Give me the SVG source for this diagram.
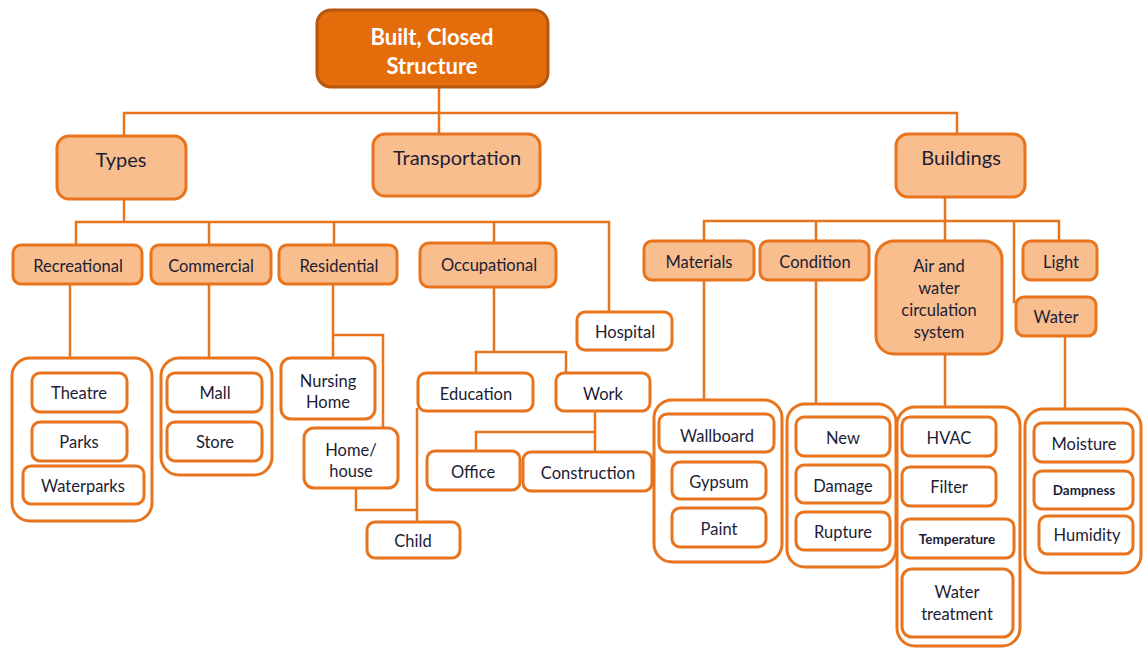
<svg xmlns="http://www.w3.org/2000/svg" width="1143" height="656" viewBox="0 0 1143 656">
<style>
text{font-family:Lato,"Liberation Sans",sans-serif;fill:#1d1d35;text-anchor:middle}
.root rect{fill:#E46C0A;stroke:#B65710;stroke-width:3}
.root text{fill:#fff;font-weight:bold;font-size:22px}
.l1 rect{fill:#F9BE8E;stroke:#E8741E;stroke-width:3}
.l1 text{font-size:20px}
.l2 rect{fill:#F9BE8E;stroke:#E8741E;stroke-width:3}
.l2 text{font-size:16.5px}
.leaf rect{fill:#fff;stroke:#E8741E;stroke-width:3}
.leaf text{font-size:16.5px}
.leaf rect.grp{fill:#fff;stroke:#E8741E;stroke-width:3}
.leaf text.small{font-size:13.5px;font-weight:bold}
#connectors path{fill:none;stroke:#E8741E;stroke-width:2.5}
</style>
<g id="connectors">
<path d="M439 87V134"/>
<path d="M124 136V113H957V133"/>
<path d="M124 199V222"/>
<path d="M76 245V222H609V312"/>
<path d="M209 222V244M334 222V244M494 222V243"/>
<path d="M945 197V221"/>
<path d="M704 241V221H1059V241"/>
<path d="M816 221V241M945 221V241M1014 221V302H1016"/>
<path d="M70 284V358"/>
<path d="M209 284V358"/>
<path d="M333 284V358M333 335H383V428"/>
<path d="M356 488V510H416"/>
<path d="M417 408V522"/>
<path d="M494 287V352M476 373V352H566V373"/>
<path d="M595 411V452M595 432H476V451"/>
<path d="M704 280V400"/>
<path d="M816 280V404"/>
<path d="M945 354V408"/>
<path d="M1065 336V409"/>
</g>
<g id="root" class="root">
<rect x="317" y="10" width="231" height="77" rx="14"/>
<text x="432" y="45">Built, Closed</text>
<text x="432" y="74">Structure</text>
</g>
<g id="types" class="l1"><rect x="57" y="136" width="129" height="63" rx="12"/><text x="121" y="167">Types</text></g>
<g id="transportation" class="l1"><rect x="373" y="134" width="167" height="62" rx="12"/><text x="457" y="165">Transportation</text></g>
<g id="buildings" class="l1"><rect x="896" y="134" width="129" height="63" rx="12"/><text x="961" y="165">Buildings</text></g>

<g id="recreational" class="l2"><rect x="13" y="245" width="129" height="39" rx="8"/><text x="78" y="272">Recreational</text></g>
<g id="commercial" class="l2"><rect x="151" y="245" width="120" height="39" rx="8"/><text x="211" y="272">Commercial</text></g>
<g id="residential" class="l2"><rect x="279" y="245" width="118" height="39" rx="8"/><text x="339" y="272">Residential</text></g>
<g id="occupational" class="l2"><rect x="420" y="243" width="136" height="44" rx="9"/><text x="489" y="271">Occupational</text></g>
<g id="materials" class="l2"><rect x="644" y="241" width="110" height="39" rx="8"/><text x="699" y="268">Materials</text></g>
<g id="condition" class="l2"><rect x="760" y="241" width="109" height="39" rx="8"/><text x="815" y="268">Condition</text></g>
<g id="air" class="l2"><rect x="876" y="241" width="126" height="113" rx="18"/><text x="939" y="272">Air and</text><text x="939" y="294">water</text><text x="939" y="316">circulation</text><text x="939" y="338">system</text></g>
<g id="light" class="l2"><rect x="1023" y="241" width="74" height="39" rx="8"/><text x="1061" y="268">Light</text></g>
<g id="water" class="l2"><rect x="1016" y="297" width="80" height="39" rx="8"/><text x="1056" y="323">Water</text></g>

<g id="hospital" class="leaf"><rect x="577" y="312" width="95" height="38" rx="8"/><text x="625" y="338">Hospital</text></g>

<g id="recreational-group" class="leaf">
<rect class="grp" x="12" y="358" width="140" height="163" rx="18"/>
<rect x="32" y="373" width="95" height="39" rx="8"/><text x="79" y="399">Theatre</text>
<rect x="32" y="422" width="95" height="39" rx="8"/><text x="79" y="448">Parks</text>
<rect x="23" y="466" width="121" height="38" rx="8"/><text x="83" y="492">Waterparks</text>
</g>
<g id="commercial-group" class="leaf">
<rect class="grp" x="161" y="358" width="111" height="117" rx="18"/>
<rect x="167" y="373" width="95" height="39" rx="8"/><text x="215" y="399">Mall</text>
<rect x="167" y="422" width="95" height="39" rx="8"/><text x="215" y="448">Store</text>
</g>
<g id="nursing" class="leaf"><rect x="281" y="358" width="94" height="61" rx="10"/><text x="328" y="387">Nursing</text><text x="328" y="408">Home</text></g>
<g id="home" class="leaf"><rect x="304" y="428" width="94" height="60" rx="10"/><text x="351" y="456">Home/</text><text x="351" y="477">house</text></g>
<g id="child" class="leaf"><rect x="367" y="522" width="93" height="36" rx="8"/><text x="413" y="547">Child</text></g>
<g id="education" class="leaf"><rect x="418" y="373" width="115" height="38" rx="8"/><text x="476" y="400">Education</text></g>
<g id="work" class="leaf"><rect x="556" y="373" width="94" height="38" rx="8"/><text x="603" y="400">Work</text></g>
<g id="office" class="leaf"><rect x="427" y="451" width="93" height="39" rx="8"/><text x="473" y="478">Office</text></g>
<g id="construction" class="leaf"><rect x="523" y="452" width="129" height="39" rx="8"/><text x="588" y="479">Construction</text></g>

<g id="materials-group" class="leaf">
<rect class="grp" x="654" y="400" width="128" height="162" rx="18"/>
<rect x="659" y="414" width="115" height="38" rx="8"/><text x="717" y="442">Wallboard</text>
<rect x="672" y="462" width="94" height="37" rx="8"/><text x="719" y="488">Gypsum</text>
<rect x="672" y="508" width="94" height="39" rx="8"/><text x="719" y="535">Paint</text>
</g>
<g id="condition-group" class="leaf">
<rect class="grp" x="787" y="404" width="109" height="163" rx="18"/>
<rect x="796" y="417" width="94" height="39" rx="8"/><text x="843" y="444">New</text>
<rect x="796" y="465" width="94" height="38" rx="8"/><text x="843" y="492">Damage</text>
<rect x="796" y="512" width="94" height="38" rx="8"/><text x="843" y="538">Rupture</text>
</g>
<g id="air-group" class="leaf">
<rect class="grp" x="897" y="407" width="123" height="239" rx="18"/>
<rect x="902" y="417" width="94" height="39" rx="8"/><text x="949" y="444">HVAC</text>
<rect x="902" y="467" width="94" height="39" rx="8"/><text x="949" y="493">Filter</text>
<rect x="902" y="519" width="112" height="39" rx="8"/><text class="small" x="957" y="544">Temperature</text>
<rect x="902" y="569" width="111" height="68" rx="10"/><text x="957" y="598">Water</text><text x="957" y="620">treatment</text>
</g>
<g id="water-group" class="leaf">
<rect class="grp" x="1025" y="409" width="116" height="164" rx="18"/>
<rect x="1034" y="423" width="99" height="39" rx="8"/><text x="1084" y="450">Moisture</text>
<rect x="1034" y="471" width="99" height="38" rx="8"/><text class="small" x="1084" y="495">Dampness</text>
<rect x="1039" y="516" width="94" height="38" rx="8"/><text x="1087" y="541">Humidity</text>
</g>
</svg>
